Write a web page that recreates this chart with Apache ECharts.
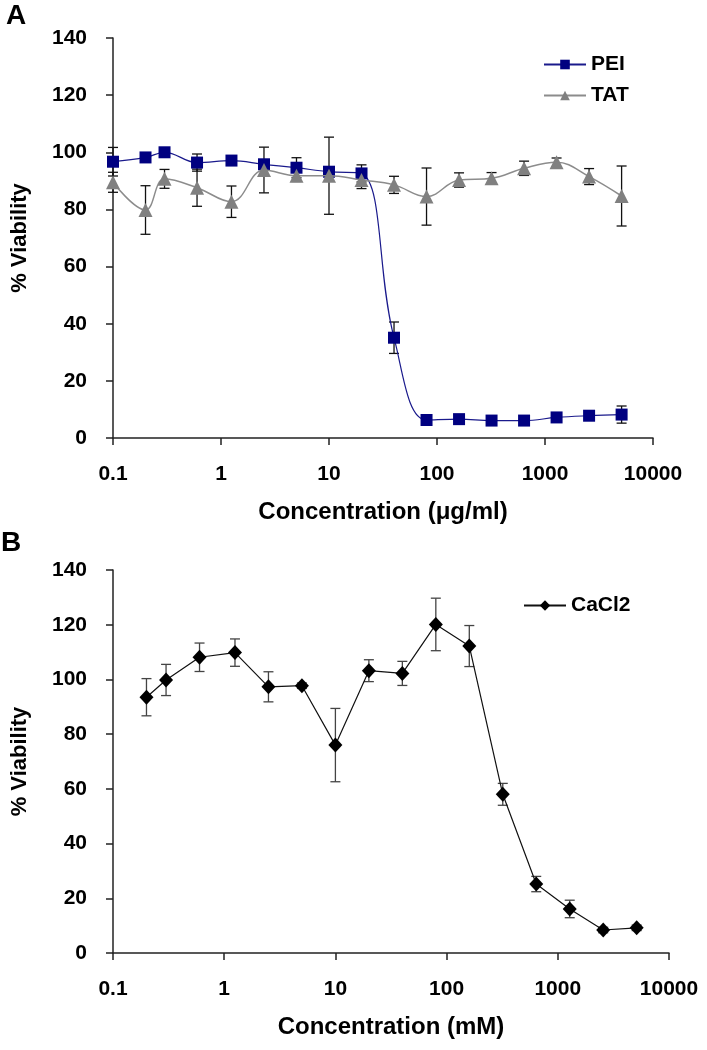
<!DOCTYPE html>
<html>
<head>
<meta charset="utf-8">
<script src="https://cdn.jsdelivr.net/npm/echarts@6/dist/echarts.min.js"></script>
<style>
  html, body { margin: 0; padding: 0; background: #fff; }
  #chart { width: 707px; height: 1050px; }
</style>
</head>
<body>
<div id="chart"></div>
<script>
// panel A: concentration (ug/ml)
const concA = [0.1, 0.2, 0.3, 0.6, 1.25, 2.5, 5, 10, 20, 40, 80, 160, 320, 640, 1280, 2560, 5120]
const peiVal = [96.7, 98.2, 100, 96.4, 97.1, 95.8, 94.6, 93.2, 92.6, 35.1, 6.3, 6.6, 6.1, 6.1, 7.2, 7.8, 8.2]
const peiErr = [5, 0, 0, 3, 0, 1.5, 3.5, 0, 3, 5.5, 0, 0, 0, 0, 0, 0, 3]
const tatVal = [89.5, 79.8, 90.7, 87.6, 82.7, 93.8, 91.8, 91.8, 90.3, 88.6, 84.5, 90.3, 90.9, 94.4, 96.5, 91.5, 84.7]
const tatErr = [3.5, 8.5, 3.3, 6.5, 5.5, 8, 2, 13.5, 3, 3, 10, 2.5, 2, 2.5, 1.5, 2.8, 10.5]

// panel B: concentration (mM)
const concB = [0.2, 0.3, 0.6, 1.25, 2.5, 5, 10, 20, 40, 80, 160, 320, 640, 1280, 2560, 5120]
const caVal = [93.5, 99.8, 108.1, 109.8, 97.3, 97.7, 76, 103.2, 102.2, 120.1, 112.2, 58, 25.2, 16.1, 8.4, 9.2]
const caErr = [6.8, 5.7, 5.2, 5, 5.5, 1, 13.4, 4, 4.4, 9.6, 7.5, 4, 2.8, 3.2, 1, 1]

const font = 'Liberation Sans, Arial, sans-serif'

const chart = echarts.init(document.getElementById('chart'))

// error bar renderer
const errorBars = (color) => (params, api) => {
  const x = api.value(0)
  const y = api.value(1)
  const e = api.value(2)
  if (!e) return null
  const top = api.coord([x, y + e])
  const bot = api.coord([x, y - e])
  const w = 5
  const style = { stroke: color, lineWidth: 1.3 }
  return {
    type: 'group',
    children: [
      { type: 'line', shape: { x1: top[0], y1: top[1], x2: bot[0], y2: bot[1] }, style },
      { type: 'line', shape: { x1: top[0] - w, y1: top[1], x2: top[0] + w, y2: top[1] }, style },
      { type: 'line', shape: { x1: bot[0] - w, y1: bot[1], x2: bot[0] + w, y2: bot[1] }, style }
    ]
  }
}

const xAxisBase = (name) => ({
  type: 'log',
  logBase: 10,
  min: 0.1,
  max: 10000,
  name: name,
  nameLocation: 'middle',
  nameGap: 62,
  nameTextStyle: { fontFamily: font, fontWeight: 'bold', fontSize: 24, color: '#000' },
  axisLine: { lineStyle: { color: '#222', width: 1.5 } },
  axisTick: { length: 7, lineStyle: { color: '#222', width: 1.5 } },
  axisLabel: {
    margin: 26,
    fontFamily: font, fontWeight: 'bold', fontSize: 21, color: '#000',
    formatter: (v) => String(v)
  },
  splitLine: { show: false },
  minorTick: { show: false }
})

const yAxisBase = () => ({
  type: 'value',
  min: 0,
  max: 140,
  interval: 20,
  name: '% Viability',
  nameLocation: 'middle',
  nameRotate: 90,
  nameGap: 82,
  nameTextStyle: { fontFamily: font, fontWeight: 'bold', fontSize: 22, color: '#000' },
  axisLine: { show: true, lineStyle: { color: '#222', width: 1.5 } },
  axisTick: { show: true, length: 7, lineStyle: { color: '#222', width: 1.5 } },
  axisLabel: { margin: 26, fontFamily: font, fontWeight: 'bold', fontSize: 21, color: '#000' },
  splitLine: { show: false }
})

chart.setOption({
  animation: false,
  backgroundColor: '#fff',
  grid: [
    { left: 113, top: 38, width: 540, height: 400 },
    { left: 113, top: 570, width: 556, height: 383 }
  ],
  xAxis: [
    Object.assign(xAxisBase('Concentration (\u03bcg/ml)'), { gridIndex: 0 }),
    Object.assign(xAxisBase('Concentration (mM)'), { gridIndex: 1 })
  ],
  yAxis: [
    Object.assign(yAxisBase(), { gridIndex: 0 }),
    Object.assign(yAxisBase(), { gridIndex: 1 })
  ],
  legend: [
    {
      data: ['PEI', 'TAT'],
      orient: 'vertical',
      left: 538,
      top: 49,
      itemWidth: 42,
      itemHeight: 12,
      itemGap: 10,
      textStyle: { fontFamily: font, fontWeight: 'bold', fontSize: 21, color: '#000' }
    },
    {
      data: ['CaCl2'],
      left: 518,
      top: 590,
      itemWidth: 42,
      itemHeight: 13,
      textStyle: { fontFamily: font, fontWeight: 'bold', fontSize: 21, color: '#000' }
    }
  ],
  graphic: [
    { type: 'text', left: 6, top: 2, style: { text: 'A', font: 'bold 28px ' + font, fill: '#000' } },
    { type: 'text', left: 1, top: 529, style: { text: 'B', font: 'bold 28px ' + font, fill: '#000' } }
  ],
  series: [
    {
      name: 'PEI err',
      type: 'custom',
      xAxisIndex: 0, yAxisIndex: 0,
      renderItem: errorBars('#111'),
      data: concA.map((x, i) => [x, peiVal[i], peiErr[i]]),
      z: 3
    },
    {
      name: 'TAT err',
      type: 'custom',
      xAxisIndex: 0, yAxisIndex: 0,
      renderItem: errorBars('#111'),
      data: concA.map((x, i) => [x, tatVal[i], tatErr[i]]),
      z: 3
    },
    {
      name: 'PEI',
      type: 'line',
      xAxisIndex: 0, yAxisIndex: 0,
      data: concA.map((x, i) => [x, peiVal[i]]),
      smooth: 0.4,
      symbol: 'rect',
      symbolSize: 12,
      lineStyle: { color: '#1a1a8c', width: 1.2 },
      itemStyle: { color: '#000080' },
      z: 4
    },
    {
      name: 'TAT',
      type: 'line',
      xAxisIndex: 0, yAxisIndex: 0,
      data: concA.map((x, i) => [x, tatVal[i]]),
      smooth: 0.4,
      symbol: 'triangle',
      symbolSize: 14,
      lineStyle: { color: '#8c8c8c', width: 1.5 },
      itemStyle: { color: '#808080' },
      z: 5
    },
    {
      name: 'CaCl2 err',
      type: 'custom',
      xAxisIndex: 1, yAxisIndex: 1,
      renderItem: errorBars('#444'),
      data: concB.map((x, i) => [x, caVal[i], caErr[i]]),
      z: 3
    },
    {
      name: 'CaCl2',
      type: 'line',
      xAxisIndex: 1, yAxisIndex: 1,
      data: concB.map((x, i) => [x, caVal[i]]),
      symbol: 'diamond',
      symbolSize: [14, 15],
      lineStyle: { color: '#111', width: 1.2 },
      itemStyle: { color: '#000' },
      z: 4
    }
  ]
})
</script>
</body>
</html>
